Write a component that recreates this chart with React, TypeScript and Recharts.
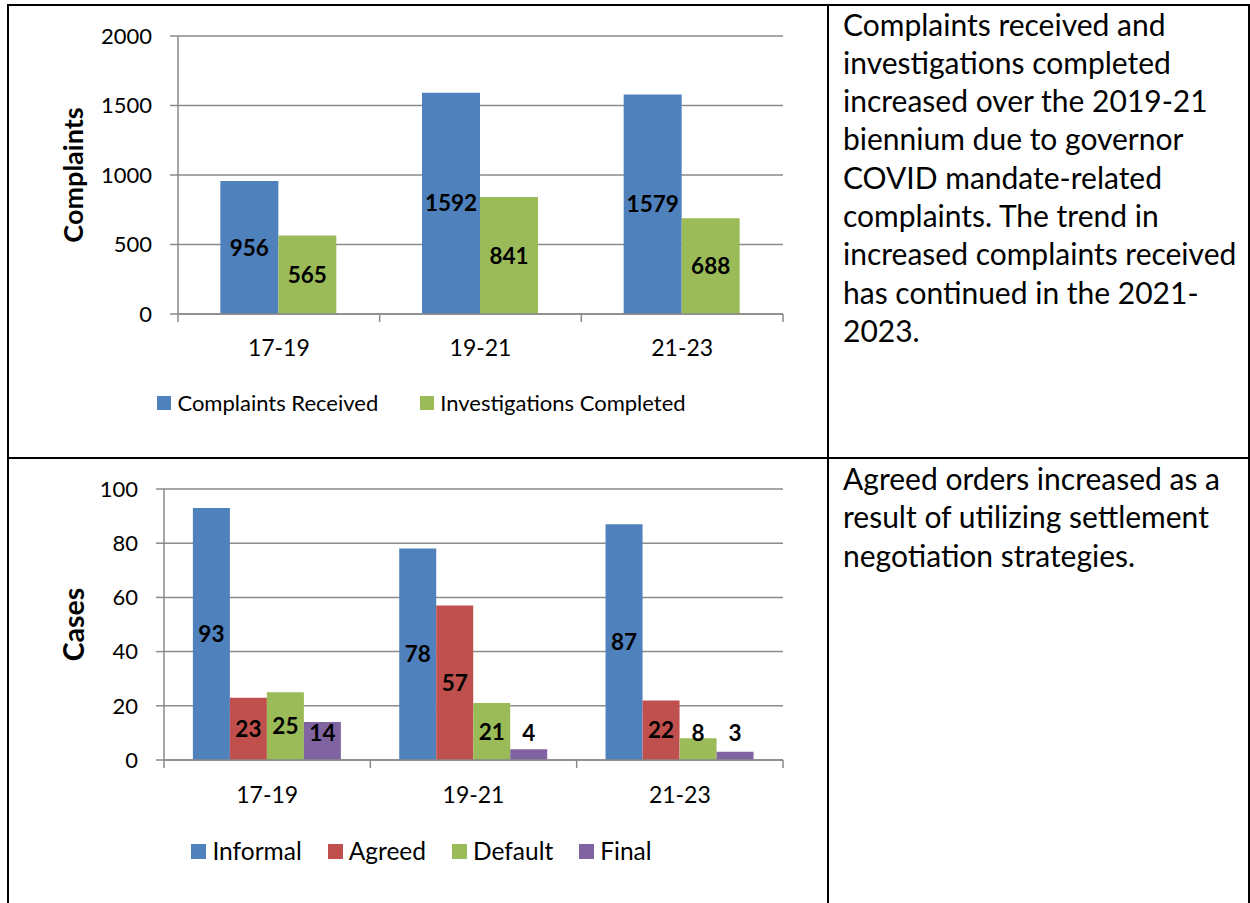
import { BarChart, Bar, XAxis, YAxis, CartesianGrid, Legend, LabelList } from 'recharts'

const periods = ['17-19', '19-21', '21-23']

const complaintsReceived = [956, 1592, 1579]
const investigationsCompleted = [565, 841, 688]
const complaintTicks = [0, 500, 1000, 1500, 2000]

const informalCases = [93, 78, 87]
const agreedCases = [23, 57, 22]
const defaultCases = [25, 21, 8]
const finalCases = [14, 4, 3]
const caseTicks = [0, 20, 40, 60, 80, 100]

const complaintsNote = [
  'Complaints received and',
  'investigations completed',
  'increased over the 2019-21',
  'biennium due to governor',
  'COVID mandate-related',
  'complaints. The trend in',
  'increased complaints received',
  'has continued in the 2021-',
  '2023.',
]

const casesNote = [
  'Agreed orders increased as a',
  'result of utilizing settlement',
  'negotiation strategies.',
]

const FONT = 'Lato, Carlito, Calibri, sans-serif'
const GRID = '#8a8a8a'
const BLUE = '#4f81bd'
const RED = '#c0504d'
const GREEN = '#9bbb59'
const PURPLE = '#8064a2'

const complaintsData = periods.map((period, i) => ({
  period,
  received: complaintsReceived[i],
  completed: investigationsCompleted[i],
}))

const casesData = periods.map((period, i) => ({
  period,
  informal: informalCases[i],
  agreed: agreedCases[i],
  defaulted: defaultCases[i],
  final: finalCases[i],
}))

interface SeriesDef {
  key: string
  name: string
  color: string
}

const complaintSeries: SeriesDef[] = [
  { key: 'received', name: 'Complaints Received', color: BLUE },
  { key: 'completed', name: 'Investigations Completed', color: GREEN },
]

const caseSeries: SeriesDef[] = [
  { key: 'informal', name: 'Informal', color: BLUE },
  { key: 'agreed', name: 'Agreed', color: RED },
  { key: 'defaulted', name: 'Default', color: GREEN },
  { key: 'final', name: 'Final', color: PURPLE },
]

// value labels sit in the middle of the bar, but never closer than 27px to the axis
const makeValueLabel = (fontSize: number) => (props: any) => {
  const { x, y, width, height, value } = props
  const bottom = Number(y) + Number(height)
  const cy = Math.min(Number(y) + Number(height) / 2, bottom - 27)
  return (
    <text
      x={Number(x) + Number(width) / 2}
      y={cy}
      dy="0.36em"
      textAnchor="middle"
      fontFamily={FONT}
      fontWeight={700}
      fontSize={fontSize}
      fill="#000"
    >
      {value}
    </text>
  )
}

interface ChartProps {
  data: any[]
  series: SeriesDef[]
  ticks: number[]
  title: string
  titleFont: number
  top: number
  height: number
  plotLeft: number
  plotTop: number
  plotBottom: number
  plotRight: number
  categoryGap: string
  titleX: number
  labelY: number
  valueFont: number
  legendTop: number
  legendGap: number
  legendFont: number
  legendBox: number
}

function GroupedBars(p: ChartProps) {
  const width = 830
  const band = (p.plotRight - p.plotLeft) / p.data.length
  const axisY = p.plotBottom
  const xAxisHeight = 40

  const CategoryTick = (props: any) => {
    const { x, payload, index } = props
    return (
      <g>
        {index === 0 && (
          <line x1={x - band / 2} y1={axisY} x2={x - band / 2} y2={axisY + 8} stroke={GRID} strokeWidth={1.5} />
        )}
        <line x1={x + band / 2} y1={axisY} x2={x + band / 2} y2={axisY + 8} stroke={GRID} strokeWidth={1.5} />
        <text x={x} y={axisY + p.labelY} dy="0.36em" textAnchor="middle" fontFamily={FONT} fontSize={23} fill="#000">
          {payload.value}
        </text>
      </g>
    )
  }

  const AxisTitle = (props: any) => {
    const vb = props.viewBox
    const cy = vb.y + vb.height / 2
    return (
      <text
        x={p.titleX}
        y={cy}
        dy="0.36em"
        transform={`rotate(-90 ${p.titleX} ${cy})`}
        textAnchor="middle"
        fontFamily={FONT}
        fontWeight={700}
        fontSize={p.titleFont}
        fill="#000"
      >
        {p.title}
      </text>
    )
  }

  const LegendContent = (props: any) => {
    const items = p.series.map((s) => (props.payload || []).find((it: any) => it.value === s.name) || { value: s.name, color: s.color })
    return (
      <div
        style={{
          display: 'flex',
          justifyContent: 'center',
          alignItems: 'center',
          fontFamily: FONT,
          fontSize: p.legendFont,
          color: '#000',
          lineHeight: '26px',
        }}
      >
        {items.map((item: any, i: number) => (
          <span key={item.value} style={{ display: 'flex', alignItems: 'center', marginLeft: i ? p.legendGap : 0 }}>
            <span
              style={{ width: p.legendBox, height: p.legendBox, background: item.color, marginRight: 6, display: 'inline-block' }}
            />
            {item.value}
          </span>
        ))}
      </div>
    )
  }

  const ValueLabel = makeValueLabel(p.valueFont)

  return (
    <div style={{ position: 'absolute', left: 0, top: p.top }}>
      <BarChart
        width={width}
        height={p.height}
        data={p.data}
        margin={{ top: p.plotTop, right: width - p.plotRight, left: 0, bottom: p.height - p.plotBottom - xAxisHeight }}
        barCategoryGap={p.categoryGap}
        barGap={0}
      >
        <CartesianGrid vertical={false} stroke={GRID} strokeWidth={1.5} />
        <XAxis
          dataKey="period"
          height={xAxisHeight}
          stroke={GRID}
          strokeWidth={1.5}
          tickLine={false}
          tick={<CategoryTick />}
          interval={0}
        />
        <YAxis
          width={p.plotLeft}
          domain={[p.ticks[0], p.ticks[p.ticks.length - 1]]}
          ticks={p.ticks}
          interval={0}
          stroke={GRID}
          strokeWidth={1.5}
          tickSize={8}
          tickMargin={18}
          tick={{ fill: '#000', fontFamily: FONT, fontSize: 22 }}
          label={<AxisTitle />}
        />
        <Legend
          verticalAlign="middle"
          align="center"
          layout="horizontal"
          content={<LegendContent />}
          wrapperStyle={{ top: p.legendTop, left: 0, width: 843 }}
        />
        {p.series.map((s) => (
          <Bar key={s.key} dataKey={s.key} name={s.name} fill={s.color} isAnimationActive={false}>
            <LabelList dataKey={s.key} content={ValueLabel} />
          </Bar>
        ))}
      </BarChart>
    </div>
  )
}

const line = (style: React.CSSProperties) => <div style={{ position: 'absolute', background: '#000', ...style }} />

const noteStyle: React.CSSProperties = {
  position: 'absolute',
  left: 843,
  fontSize: 30,
  lineHeight: '38.3px',
  whiteSpace: 'nowrap',
  color: '#000',
}

export default function App() {
  return (
    <div
      style={{
        position: 'absolute',
        left: 0,
        top: 0,
        width: 1250,
        height: 903,
        background: '#fff',
        overflow: 'hidden',
        fontFamily: FONT,
      }}
    >
      <GroupedBars
        data={complaintsData}
        series={complaintSeries}
        ticks={complaintTicks}
        title="Complaints"
        titleFont={27}
        top={0}
        height={458}
        plotLeft={178}
        plotTop={36}
        plotBottom={314}
        plotRight={783}
        categoryGap="21%"
        titleX={73}
        labelY={34}
        valueFont={22.5}
        legendTop={390}
        legendGap={42}
        legendFont={22}
        legendBox={14}
      />
      <GroupedBars
        data={casesData}
        series={caseSeries}
        ticks={caseTicks}
        title="Cases"
        titleFont={28.5}
        top={458}
        height={445}
        plotLeft={164}
        plotTop={31}
        plotBottom={302}
        plotRight={783}
        categoryGap="14%"
        titleX={74}
        labelY={35}
        valueFont={22.5}
        legendTop={380}
        legendGap={26}
        legendFont={24.5}
        legendBox={15}
      />

      <div style={{ ...noteStyle, top: 4.5 }}>
        {complaintsNote.map((t) => (
          <div key={t}>{t}</div>
        ))}
      </div>
      <div style={{ ...noteStyle, top: 459 }}>
        {casesNote.map((t) => (
          <div key={t}>{t}</div>
        ))}
      </div>

      {line({ left: 7, top: 4, width: 1243, height: 2 })}
      {line({ left: 7, top: 457, width: 1243, height: 2 })}
      {line({ left: 7, top: 4, width: 2, height: 899 })}
      {line({ left: 827, top: 4, width: 2, height: 899 })}
      {line({ left: 1248, top: 4, width: 2, height: 899 })}
    </div>
  )
}
